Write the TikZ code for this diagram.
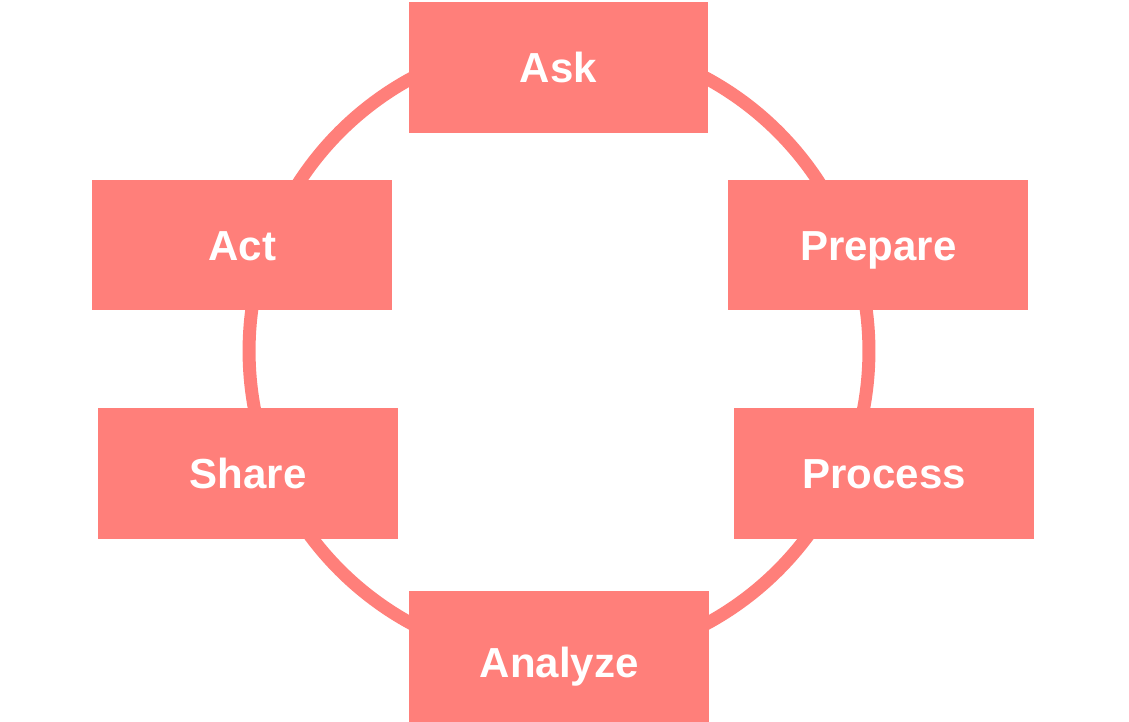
\documentclass[tikz,border=0pt]{standalone}
\usepackage{fontspec}
\setmainfont{Liberation Sans}
\usepackage{tikz}
\definecolor{salmon}{RGB}{255,127,122}
\def\ring{(559,351) circle [radius=6.2cm]}
\tikzset{stage/.style={fill=salmon, text=white, font=\fontsize{23.9}{28}\selectfont\bfseries,
    minimum width=6cm, minimum height=2.62cm, inner sep=0pt, text height=17.1pt, text depth=0pt}}

\begin{document}
\begin{tikzpicture}[x=0.02cm,y=-0.02cm]
    \useasboundingbox (0,0) rectangle (1129,722);
    % the ring behind the boxes
    \draw[salmon, line width=0.26cm] \ring;
    % the six stages
    \node[stage] (ask) at (558.5,67.5) {Ask};
    \node[stage] (act) at (242.3,245) {Act};
    \node[stage] (prepare) at (878.3,245) {Prepare};
    \node[stage] (share) at (248.3,473.8) {Share};
    \node[stage] (process) at (884.3,473.8) {Process};
    \node[stage, minimum height=2.86cm] (analyze) at (559.3,662.5) {Analyze};
\end{tikzpicture}
\end{document}
